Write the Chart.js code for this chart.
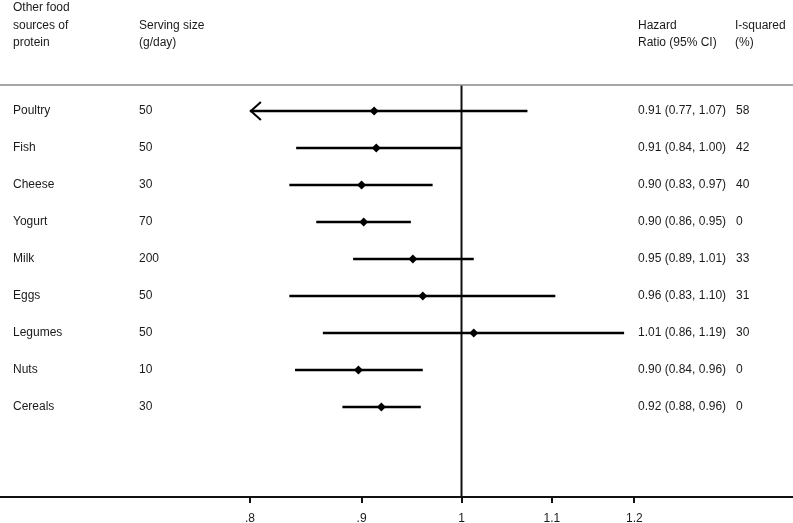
<!DOCTYPE html>
<html><head><meta charset="utf-8">
<script src="https://cdn.jsdelivr.net/npm/chart.js@4/dist/chart.umd.min.js"></script>
<style>html,body{margin:0;padding:0;background:#fff;overflow:hidden}</style>
</head><body>
<canvas id="c" width="793" height="523" style="display:block;width:793px;height:523px"></canvas>
<script>
// ---- data ----
const categories   = ['Poultry','Fish','Cheese','Yogurt','Milk','Eggs','Legumes','Nuts','Cereals'];
const servingSizes = ['50','50','30','70','200','50','50','10','30'];
const hazardRatio  = [0.912, 0.914, 0.900, 0.902, 0.950, 0.960, 1.013, 0.897, 0.919];
const ciLower      = [0.770, 0.840, 0.834, 0.858, 0.892, 0.834, 0.864, 0.839, 0.882];
const ciUpper      = [1.072, 1.000, 0.970, 0.948, 1.013, 1.104, 1.187, 0.960, 0.958];
const hrLabels     = ['0.91 (0.77, 1.07)','0.91 (0.84, 1.00)','0.90 (0.83, 0.97)','0.90 (0.86, 0.95)',
                      '0.95 (0.89, 1.01)','0.96 (0.83, 1.10)','1.01 (0.86, 1.19)','0.90 (0.84, 0.96)','0.92 (0.88, 0.96)'];
const iSquared     = ['58','42','40','0','33','31','30','0','0'];
const xTicks       = [0.8, 0.9, 1, 1.1, 1.2];
const xTickLabels  = ['.8', '.9', '1', '1.1', '1.2'];
const headerCol1   = ['Other food','sources of','protein'];
const headerCol2   = ['Serving size','(g/day)'];
const headerCol3   = ['Hazard','Ratio (95% CI)'];
const headerCol4   = ['I-squared','(%)'];

// ---- layout constants ----
const Y_MIN = -3, Y_MAX = -3 + 497/37;
const HEADER_LINE = -3 + 85/37;
const FONT = '12px "Liberation Sans", Arial, Helvetica, sans-serif';
const TXT = '#1a1a1a';
const clipLo = xTicks[0], clipHi = xTicks[xTicks.length-1];

const ciData = [];
categories.forEach((c,i)=>{
  ciData.push({x: Math.max(ciLower[i], clipLo), y: i});
  ciData.push({x: Math.min(ciUpper[i], clipHi), y: i});
  ciData.push({x: null, y: null});
});
const pointData = categories.map((c,i)=>({x: hazardRatio[i], y: i}));

const textPlugin = {
  id: 'forestText',
  afterDraw(chart){
    const ctx = chart.ctx, ys = chart.scales.y, xs = chart.scales.x, ca = chart.chartArea;
    ctx.save();
    // header separator
    const hy = ys.getPixelForValue(HEADER_LINE);
    ctx.strokeStyle = '#8a8a8a'; ctx.lineWidth = 1.5;
    ctx.beginPath(); ctx.moveTo(ca.left, hy); ctx.lineTo(ca.right, hy); ctx.stroke();
    // arrows for clipped CIs
    ctx.strokeStyle = '#000'; ctx.lineWidth = 2;
    categories.forEach((c,i)=>{
      const y = ys.getPixelForValue(i);
      if (ciLower[i] < clipLo){
        const x = xs.getPixelForValue(clipLo);
        ctx.beginPath(); ctx.moveTo(x+11, y-9); ctx.lineTo(x+1, y); ctx.lineTo(x+11, y+9); ctx.stroke();
      }
      if (ciUpper[i] > clipHi){
        const x = xs.getPixelForValue(clipHi);
        ctx.beginPath(); ctx.moveTo(x-11, y-9); ctx.lineTo(x-1, y); ctx.lineTo(x-11, y+9); ctx.stroke();
      }
    });
    // texts
    ctx.fillStyle = TXT; ctx.font = FONT; ctx.textBaseline = 'middle'; ctx.textAlign = 'left';
    const hdrY = [8, 25.5, 43];
    headerCol1.forEach((t,k)=>ctx.fillText(t, 13, hdrY[k]));
    headerCol2.forEach((t,k)=>ctx.fillText(t, 139, hdrY[k+1]));
    headerCol3.forEach((t,k)=>ctx.fillText(t, 638, hdrY[k+1]));
    headerCol4.forEach((t,k)=>ctx.fillText(t, 735, hdrY[k+1]));
    categories.forEach((c,i)=>{
      const y = ys.getPixelForValue(i);
      ctx.fillText(c, 13, y);
      ctx.fillText(servingSizes[i], 139, y);
      ctx.fillText(hrLabels[i], 638, y);
      ctx.fillText(iSquared[i], 736, y);
    });
    ctx.restore();
  }
};

new Chart(document.getElementById('c'), {
  type: 'scatter',
  data: {
    datasets: [
      { label: 'HR', data: pointData, pointStyle: 'rectRot', pointRadius: 4.5, pointHoverRadius: 4.5,
        backgroundColor: '#000', borderColor: '#000', borderWidth: 0, showLine: false },
      { label: 'CI', data: ciData, showLine: true, spanGaps: false, pointRadius: 0, pointHoverRadius: 0,
        borderColor: '#000', borderWidth: 2.5 },
      { label: 'ref', data: [{x:1, y:HEADER_LINE},{x:1, y:Y_MAX}], showLine: true, pointRadius: 0,
        pointHoverRadius: 0, borderColor: '#111', borderWidth: 2 }
    ]
  },
  options: {
    responsive: false, animation: false,
    layout: { padding: 0, autoPadding: false },
    plugins: { legend: { display: false }, tooltip: { enabled: false } },
    scales: {
      x: {
        type: 'logarithmic', min: 0.6147, max: 1.4184, bounds: 'data',
        afterBuildTicks(scale){ scale.ticks = xTicks.map(v=>({value: v})); },
        afterFit(scale){ scale.height = 26; },
        ticks: {
          autoSkip: false, maxRotation: 0, padding: 8, color: TXT,
          font: { family: '"Liberation Sans", Arial, sans-serif', size: 12 },
          callback(v){ const k = xTicks.indexOf(v); return k >= 0 ? xTickLabels[k] : ''; }
        },
        grid: { display: true, drawOnChartArea: false, drawTicks: true, tickLength: 6, color: '#111', lineWidth: 2 },
        border: { display: true, color: '#111', width: 2 }
      },
      y: { type: 'linear', display: false, reverse: true, min: Y_MIN, max: Y_MAX }
    }
  },
  plugins: [textPlugin]
});
</script>
</body></html>
